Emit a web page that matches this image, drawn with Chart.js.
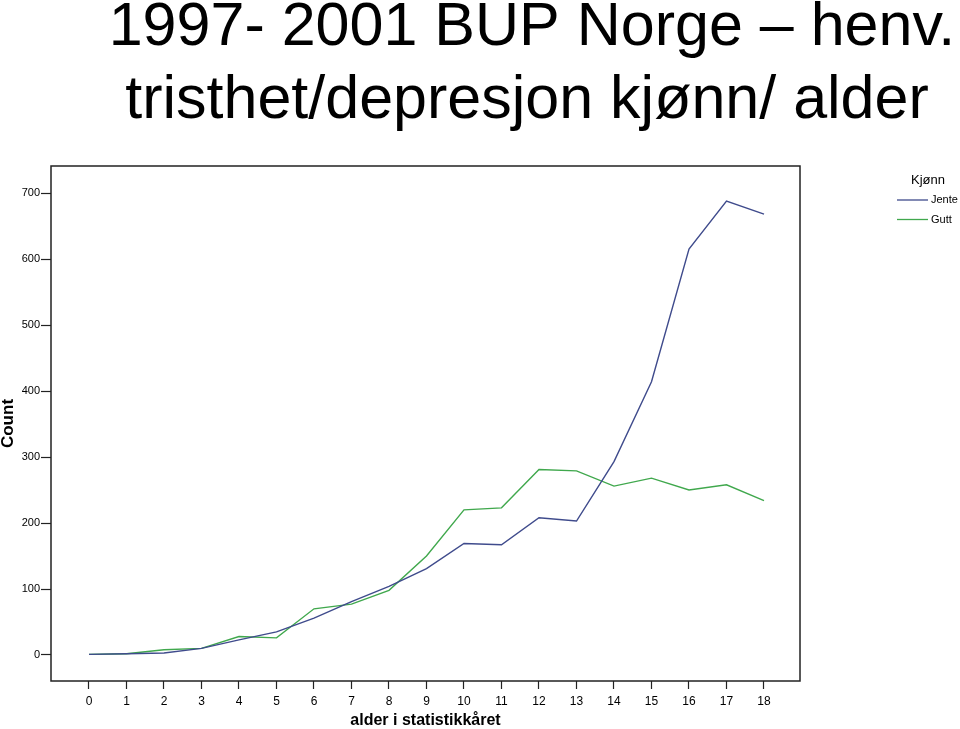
<!DOCTYPE html>
<html>
<head>
<meta charset="utf-8">
<title>BUP Norge</title>
<script src="https://cdn.jsdelivr.net/npm/chart.js@4.4.1/dist/chart.umd.min.js"></script>
<style>
    html, body { margin: 0; padding: 0; background: #fff; }
    #wrap { width: 960px; height: 729px; position: relative; }
</style>
</head>
<body>
<div id="wrap"><canvas id="chart"></canvas></div>
<script>
const titleLines = ["1997- 2001 BUP Norge \u2013 henv.", "tristhet/depresjon kj\u00f8nn/ alder"];
const legendTitle = "Kj\u00f8nn";
const xTitle = "alder i statistikk\u00e5ret";
const yTitle = "Count";

const ages = [0, 1, 2, 3, 4, 5, 6, 7, 8, 9, 10, 11, 12, 13, 14, 15, 16, 17, 18];
const jente = [1, 2, 3, 10, 23, 35, 56, 81, 104, 131, 169, 167, 208, 203, 293, 414, 615, 688, 668];
const gutt = [1, 2, 8, 10, 28, 26, 70, 77, 98, 150, 220, 223, 281, 279, 256, 268, 250, 258, 234];
const yTicks = [0, 100, 200, 300, 400, 500, 600, 700];

const narrow = "'Liberation Sans Narrow', 'Liberation Sans', Arial, sans-serif";
const sans = "'Liberation Sans', Arial, sans-serif";

const frame = {
    id: "frame",
    afterDraw(chart) {
        const ctx = chart.ctx;
        const a = chart.chartArea;
        ctx.save();
        ctx.strokeStyle = "#222";
        ctx.lineWidth = 1.5;
        ctx.strokeRect(a.left, a.top, a.right - a.left, a.bottom - a.top);

        // title
        ctx.fillStyle = "#000";
        ctx.font = "61px " + sans;
        ctx.textAlign = "center";
        ctx.textBaseline = "alphabetic";
        ctx.fillText(titleLines[0], 532, 45);
        ctx.fillText(titleLines[1], 527, 118);

        // legend
        ctx.textAlign = "left";
        ctx.textBaseline = "middle";
        ctx.font = "13px " + sans;
        ctx.fillText(legendTitle, 911, 180);
        ctx.font = "11px " + narrow;
        chart.data.datasets.forEach(function (ds, i) {
            const y = 200 + i * 19.5;
            ctx.strokeStyle = ds.borderColor;
            ctx.lineWidth = 1.3;
            ctx.beginPath();
            ctx.moveTo(897, y);
            ctx.lineTo(928, y);
            ctx.stroke();
            ctx.fillText(ds.label, 931, y);
        });
        ctx.restore();
    },
};

const ctx = document.getElementById("chart").getContext("2d");

new Chart(ctx, {
    type: "line",
    data: {
        datasets: [
            {
                label: "Jente",
                data: ages.map((a, i) => ({ x: a, y: jente[i] })),
                borderColor: "#3f4b8c",
                borderWidth: 1.4,
                pointRadius: 0,
                tension: 0,
                fill: false,
            },
            {
                label: "Gutt",
                data: ages.map((a, i) => ({ x: a, y: gutt[i] })),
                borderColor: "#40a84d",
                borderWidth: 1.4,
                pointRadius: 0,
                tension: 0,
                fill: false,
            },
        ],
    },
    options: {
        responsive: true,
        maintainAspectRatio: false,
        animation: false,
        layout: { padding: { left: 0, right: 160, top: 166, bottom: 0 } },
        plugins: {
            legend: { display: false },
            tooltip: { enabled: false },
        },
        scales: {
            x: {
                type: "linear",
                min: -1.013,
                max: 18.96,
                afterBuildTicks: (scale) => {
                    scale.ticks = ages.map((v) => ({ value: v }));
                },
                afterFit: (scale) => {
                    scale.height = 48;
                },
                border: { display: false },
                grid: {
                    drawOnChartArea: false,
                    drawTicks: true,
                    tickLength: 8,
                    tickColor: "#222",
                    tickWidth: 1.2,
                },
                ticks: {
                    color: "#000",
                    font: { family: sans, size: 12 },
                    padding: 5,
                    maxRotation: 0,
                    autoSkip: false,
                },
                title: {
                    display: true,
                    text: xTitle,
                    color: "#000",
                    font: { family: narrow, size: 16, weight: "bold", lineHeight: 1 },
                    padding: 0,
                },
            },
            y: {
                min: -39.4,
                max: 741,
                afterBuildTicks: (scale) => {
                    scale.ticks = yTicks.map((v) => ({ value: v }));
                },
                afterFit: (scale) => {
                    scale.width = 51;
                },
                border: { display: false },
                grid: {
                    drawOnChartArea: false,
                    drawTicks: true,
                    tickLength: 10,
                    tickColor: "#222",
                    tickWidth: 1.2,
                },
                ticks: {
                    color: "#000",
                    font: { family: narrow, size: 11 },
                    padding: 1,
                },
                title: {
                    display: true,
                    text: yTitle,
                    color: "#000",
                    font: { family: sans, size: 17, weight: "bold", lineHeight: 1 },
                    padding: 0,
                },
            },
        },
    },
    plugins: [frame],
});
</script>
</body>
</html>
